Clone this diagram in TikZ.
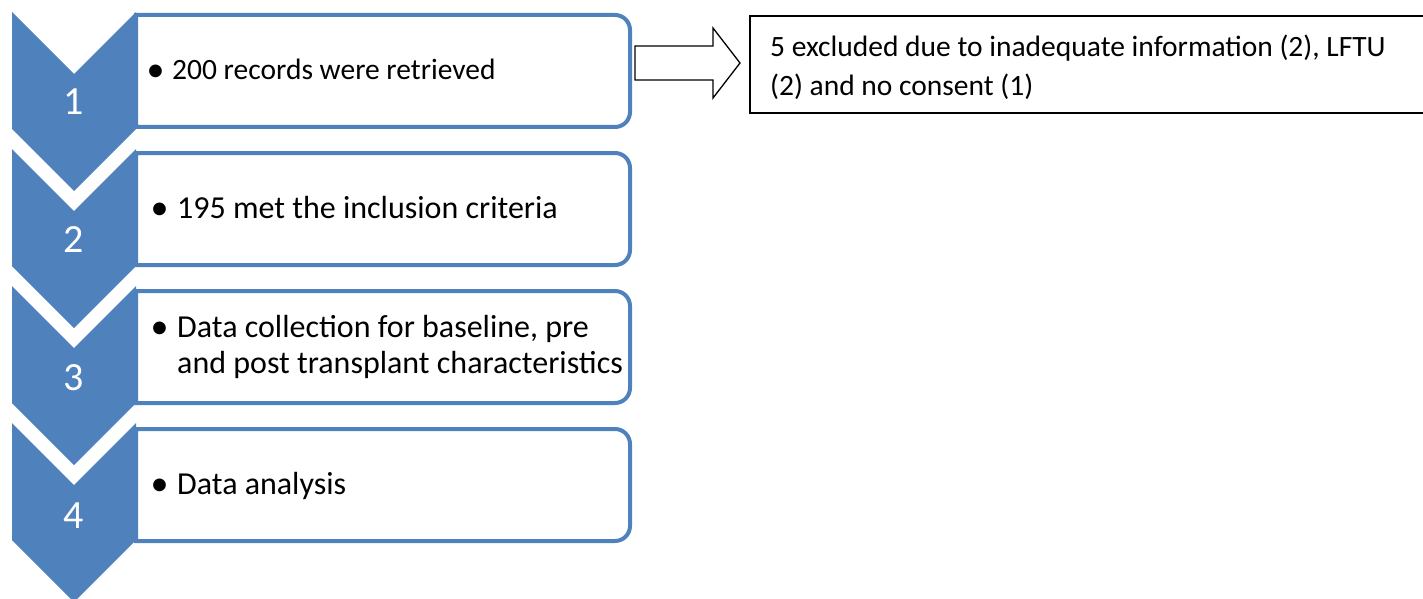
\documentclass[tikz,border=0pt]{standalone}
\usepackage{fontspec}
\setmainfont{Carlito}
\usetikzlibrary{calc}
\definecolor{ofblue}{HTML}{4F81BD}
\tikzset{
  stepnode/.style={outer sep=0pt, inner sep=0pt, anchor=north west, minimum width=494pt, minimum height=112pt},
  stepline/.style={draw=ofblue, line width=4pt, fill=white},
  chev/.style={fill=ofblue},
  num/.style={text=white, font=\fontsize{40}{48}\selectfont, anchor=base, inner sep=0pt},
  txt/.style={anchor=west, inner sep=0pt, font=\fontsize{32}{36}\selectfont},
  txtsmall/.style={anchor=west, inner sep=0pt, font=\fontsize{29.5}{37}\selectfont},
  extxt/.style={anchor=west, inner sep=0pt, font=\fontsize{29.5}{39}\selectfont},
  exbox/.style={draw=black, line width=1.5pt, fill=white, outer sep=0pt, inner sep=0pt, anchor=north west, minimum width=700pt, minimum height=97pt},
  blockarrow/.style={draw=black, line width=1.3pt, fill=white},
}
\newcommand{\bul}[1]{\makebox[#1][l]{\hspace{-4.5pt}\raisebox{-1.5pt}{\fontsize{36}{36}\selectfont\textbullet}}}
\begin{document}
\begin{tikzpicture}[x=1pt,y=-1pt]
\useasboundingbox (0,0) rectangle (1423,599);
\clip (0,0) rectangle (1423,599);
% boxes
\foreach \y/\nm in {15/b1,153/b2,291/b3,429/b4}{
  \node[stepnode] (\nm) at (136,\y) {};
  \draw[stepline] (\nm.south west) -- (\nm.north west) [rounded corners=15pt] -- (\nm.north east) -- (\nm.south east) [sharp corners] -- cycle;
}
% chevrons
\foreach \t in {12,149,286,423}{
  \fill[chev] (12,\t) -- (74,\t+62) -- (136,\t) -- (136,\t+117) -- (74,\t+179) -- (12,\t+117) -- cycle;
}
\node[num] (n1) at (74,114) {1};
\node[num] (n2) at (74,252) {2};
\node[num] (n3) at (74,390) {3};
\node[num] (n4) at (74,528) {4};
% texts
\node[txtsmall] (t1) at (151,72.5) {\begin{tabular}{@{}l@{}}\bul{21pt}200 records were retrieved\end{tabular}};
\node[txt] (t2) at (155,211) {\begin{tabular}{@{}l@{}}\bul{22pt}195 met the inclusion criteria\end{tabular}};
\node[txt] (t3) at (155,348) {\begin{tabular}{@{}l@{}l@{}}\bul{22pt} & Data collection for baseline, pre\\ & and post transplant characteristics\end{tabular}};
\node[txt] (t4) at (155,487) {\begin{tabular}{@{}l@{}}\bul{22pt}Data analysis\end{tabular}};
% excluded box
\node[exbox] (ex) at (750,16) {};
\node[extxt] (ext) at (770,68.7) {\begin{tabular}{@{}l@{}}5 excluded due to inadequate information (2), LFTU\\(2) and no consent (1)\end{tabular}};
% block arrow
\coordinate (a0) at (635,63);
\coordinate (a1) at (740,63);
\draw[blockarrow] ($(a0)+(0,-17)$) -- ($(a1)+(-27,-17)$) -- ($(a1)+(-27,-35)$) -- (a1) -- ($(a1)+(-27,35)$) -- ($(a1)+(-27,17)$) -- ($(a0)+(0,17)$) -- cycle;
\end{tikzpicture}
\end{document}
